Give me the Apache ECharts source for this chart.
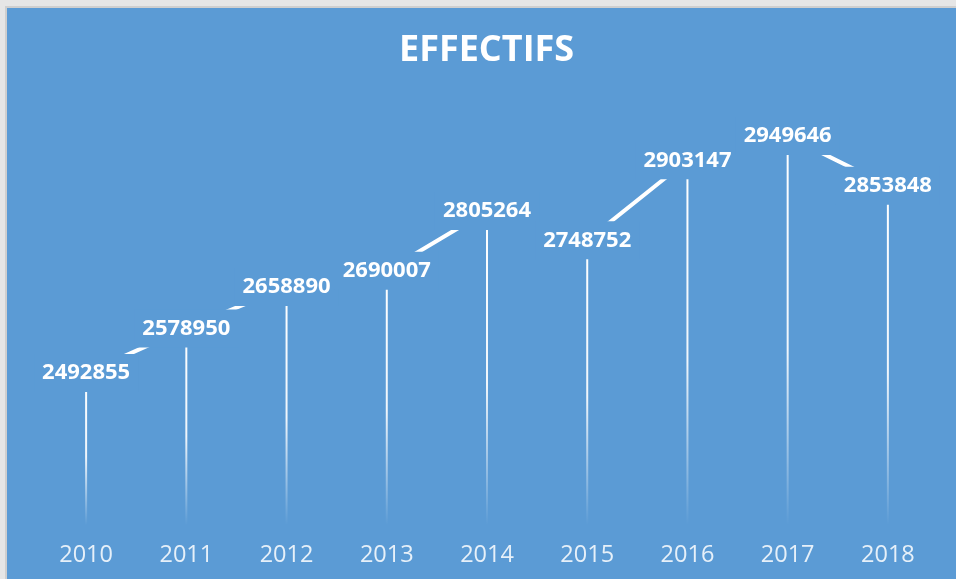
<!DOCTYPE html>
<html>
<head>
<meta charset="utf-8">
<script src="https://cdn.jsdelivr.net/npm/echarts@6/dist/echarts.min.js"></script>
<style>
html,body{margin:0;padding:0;background:#ececec;}
#c{width:956px;height:579px;}
</style>
</head>
<body>
<div id="c"></div>
<script>
const years = ['2010','2011','2012','2013','2014','2015','2016','2017','2018'];
const effectifs = [2492855, 2578950, 2658890, 2690007, 2805264, 2748752, 2903147, 2949646, 2853848];
const titleText = 'EFFECTIFS';
const BG = '#5B9BD5';

const chart = echarts.init(document.getElementById('c'));
chart.setOption({
  backgroundColor: '#e6e6e6',
  animation: false,
  graphic: [
    {type:'rect', shape:{x:5,y:6,width:951,height:573}, style:{fill:'#cfcfcf'}, z:-10},
    {type:'rect', shape:{x:7,y:8,width:949,height:571}, style:{fill:BG}, z:-9}
  ],
  title: {
    text: titleText,
    left: 394,
    top: 28,
    textStyle: {color:'#ffffff', fontFamily:'Open Sans', fontWeight:'bold', fontSize:36, letterSpacing: 4.6}
  },
  grid: {left:36, right:18, top:110, bottom:54},
  xAxis: {
    type:'category',
    data: years,
    axisLine:{show:false},
    axisTick:{show:false},
    axisLabel:{color:'rgba(255,255,255,0.85)', fontFamily:'Open Sans', fontSize:23.5, margin:18}
  },
  yAxis: {
    type:'value',
    min:2200000,
    max:3000000,
    show:false,
    splitLine:{show:false}
  },
  series: [
    {
      type:'bar',
      data: effectifs,
      barWidth: 2,
      z: 1,
      itemStyle:{
        color: new echarts.graphic.LinearGradient(0,0,0,1,[
          {offset:0, color:'rgba(255,255,255,1)'},
          {offset:0.55, color:'rgba(255,255,255,0.9)'},
          {offset:1, color:'rgba(255,255,255,0)'}
        ])
      }
    },
    {
      type:'line',
      data: effectifs,
      z: 3,
      symbol:'circle',
      symbolSize:1,
      showSymbol:true,
      itemStyle:{color:'rgba(0,0,0,0)'},
      lineStyle:{color:'#ffffff', width:4},
      label:{
        show:true,
        position:'inside',
        color:'#ffffff',
        fontFamily:'Open Sans',
        fontWeight:'bold',
        fontSize:22,
        backgroundColor: BG,
        padding:[8,8,8,8]
      }
    }
  ]
});
</script>
</body>
</html>
